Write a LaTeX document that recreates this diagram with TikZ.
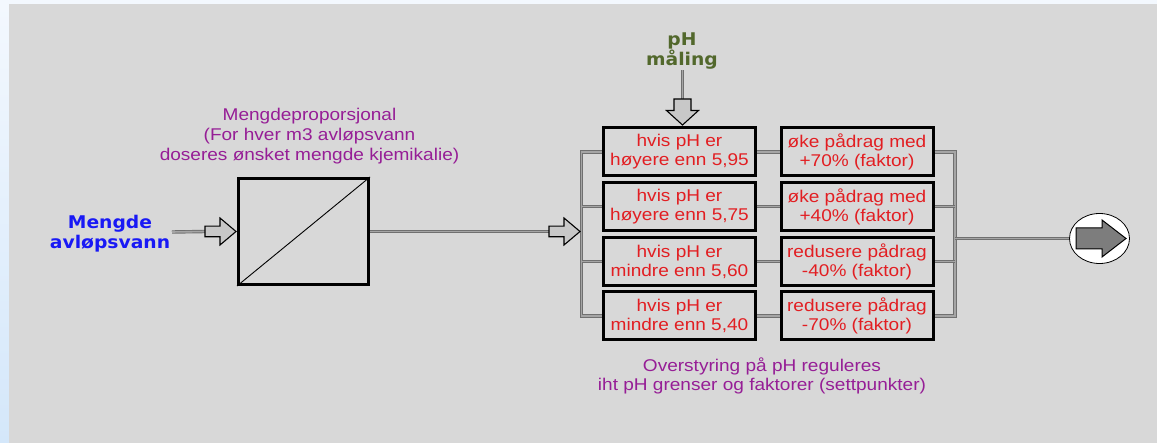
\documentclass[tikz,border=0pt]{standalone}
\usepackage{fontspec}
\setmainfont{Liberation Sans}
\newfontfamily\arialw[FakeStretch=1.12]{Liberation Sans}
\newfontfamily\dejaw[FakeStretch=1.07]{DejaVu Sans}
\usetikzlibrary{shapes.geometric,calc}
\definecolor{panel}{RGB}{216,216,216}
\definecolor{stripTop}{RGB}{243,248,254}
\definecolor{stripBot}{RGB}{212,231,250}
\definecolor{txtpurple}{RGB}{150,30,150}
\definecolor{txtred}{RGB}{226,30,34}
\definecolor{txtblue}{RGB}{25,25,245}
\definecolor{txtgreen}{RGB}{82,104,44}
\definecolor{connedge}{RGB}{112,112,112}
\definecolor{conninner}{RGB}{165,165,165}
\definecolor{arrfill}{RGB}{200,200,200}
\definecolor{outfill}{RGB}{125,125,125}
\tikzset{
  conn/.style={draw=connedge, line width=0.9pt, double=conninner, double distance=1.6pt},
  blk/.style={draw=black, line width=3pt, inner sep=0pt, minimum width=152pt, minimum height=48pt,
    align=center, text=txtred, font=\arialw\fontsize{17}{19}\selectfont},
  purpletxt/.style={align=center, text=txtpurple, inner sep=1pt},
  barrow/.style={fill=arrfill, draw=black, line width=1.1pt, line join=miter},
  rarrow/.pic={\path[barrow] (0,0) -- (-16,-13.5) -- (-16,-5.3) -- (-31,-5.3) -- (-31,5.3) -- (-16,5.3) -- (-16,13.5) -- cycle;},
  darrow/.pic={\path[barrow] (0,0) -- (-16,-14.5) -- (-8.5,-14.5) -- (-8.5,-26) -- (8.5,-26) -- (8.5,-14.5) -- (16,-14.5) -- cycle;}
}
\begin{document}
\begin{tikzpicture}[x=1pt,y=-1pt]
\useasboundingbox (0,0) rectangle (1157,443);
% background
\fill[stripTop] (0,0) rectangle (1157,443);
\shade[top color=stripTop, bottom color=stripBot] (0,4) rectangle (9,443);
\fill[panel] (9,4) rectangle (1157,443);

% input label
\node[align=center, text=txtblue, inner sep=1pt, font=\dejaw\bfseries\fontsize{17.5}{20}\selectfont] (inlab) at (110,234) {Mengde\\avløpsvann};
\coordinate (instart) at (172,232);

% proportional box
\node[draw=black, line width=3pt, inner sep=0pt, minimum width=130pt, minimum height=106pt] (prop) at (303.5,231.5) {};
\draw[line width=0.9pt] (prop.south west) -- (prop.north east);
\node[purpletxt, font=\arialw\fontsize{17}{20}\selectfont] (plab) at (309.5,136) {Mengdeproporsjonal\\(For hver m3 avløpsvann\\doseres ønsket mengde kjemikalie)};

% input connector
\draw[conn] (instart) -- ($(prop.west)+(-31,0)$);
\pic at ($(prop.west)+(-1,0)$) {rarrow};

% condition boxes
\node[blk] (c1) at (679.5,152) {hvis pH er\\høyere enn 5,95};
\node[blk] (c2) at (679.5,206.5) {hvis pH er\\høyere enn 5,75};
\node[blk] (c3) at (679.5,261.5) {hvis pH er\\mindre enn 5,60};
\node[blk] (c4) at (679.5,316) {hvis pH er\\mindre enn 5,40};
% action boxes
\node[blk] (r1) at (857,152) {øke pådrag med\\+70\% (faktor)};
\node[blk] (r2) at (857,206.5) {øke pådrag med\\+40\% (faktor)};
\node[blk] (r3) at (857,261.5) {redusere pådrag\\-40\% (faktor)};
\node[blk] (r4) at (857,316) {redusere pådrag\\-70\% (faktor)};

% left bus
\coordinate (bl) at (581.5,0);
\draw[conn] (c1.west) -- (c1.west -| bl) -- (c4.west -| bl) -- (c4.west);
\draw[conn] (c2.west -| bl) -- (c2.west);
\draw[conn] (c3.west -| bl) -- (c3.west);
\coordinate (tipL) at ($(prop.east -| bl)+(-1.5,0)$);
\draw[conn] (prop.east) -- ($(tipL)+(-31,0)$);
\pic at (tipL) {rarrow};

% pH measurement
\node[align=center, text=txtgreen, inner sep=1pt, font=\dejaw\bfseries\fontsize{17.5}{19.5}\selectfont] (ph) at (682,51) {pH\\måling};
\coordinate (phx) at ($(c1.north)+(3,0)$);
\draw[conn] (ph.south -| phx) -- ($(phx)+(0,-26)$);
\pic at ($(phx)+(0,-1.5)$) {darrow};

% box-to-box connectors
\foreach \i in {1,...,4} {\draw[conn] (c\i.east) -- (r\i.west);}

% right bus
\coordinate (br) at (955,0);
\draw[conn] (r1.east) -- (r1.east -| br) -- (r4.east -| br) -- (r4.east);
\draw[conn] (r2.east -| br) -- (r2.east);
\draw[conn] (r3.east -| br) -- (r3.east);

% output
\node[ellipse, draw=black, line width=0.8pt, fill=white, minimum width=60pt, minimum height=50pt, inner sep=0pt] (out) at (1099.5,238.5) {};
\draw[conn] (out.west -| br) -- (out.west);
\begin{scope}[shift={(out.center)}]
\path[fill=outfill, draw=black, line width=1pt, line join=miter] (26.5,0) -- (2.5,-18.5) -- (2.5,-10.5) -- (-23.5,-10.5) -- (-23.5,10.5) -- (2.5,10.5) -- (2.5,18.5) -- cycle;
\end{scope}

% bottom label
\node[purpletxt, font=\arialw\fontsize{17}{19}\selectfont] (ovs) at (762,376) {Overstyring på pH reguleres\\iht pH grenser og faktorer (settpunkter)};
\end{tikzpicture}
\end{document}
